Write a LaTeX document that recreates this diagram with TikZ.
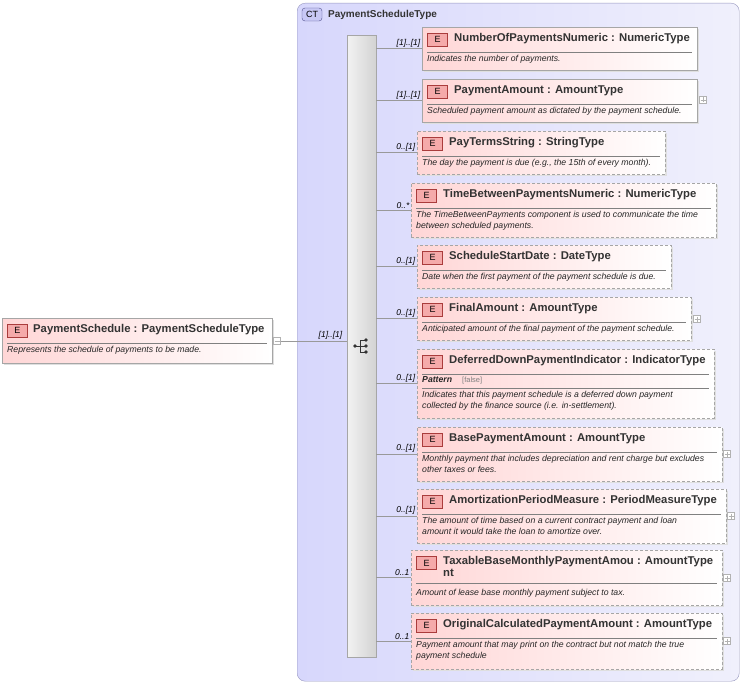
\documentclass[tikz,border=0pt]{standalone}
\usepackage{fontspec}
\setmainfont{Liberation Sans}
\begin{document}
\begin{tikzpicture}[x=1pt,y=-1pt,
  box/.style={draw=gray!70, left color={rgb,255:red,255;green,214;blue,214}, right color=white, shading angle=90, inner sep=0},
  shadow/.style={fill=gray!25, draw=none},
  ttl/.style={font=\fontsize{11.3}{13}\selectfont\bfseries, anchor=west, inner sep=0, text=black!80},
  dsc/.style={font=\fontsize{8.7}{10.5}\selectfont\itshape, anchor=north west, align=left, inner sep=0, text=black!85},
  mult/.style={font=\fontsize{8.5}{9}\selectfont\itshape, anchor=south east, inner sep=1.5pt},
  badge/.style={draw={rgb,255:red,170;green,60;blue,60}, fill={rgb,255:red,245;green,170;blue,170}, minimum width=20, minimum height=13, inner sep=0, font=\fontsize{9}{9}\selectfont},
  conn/.style={draw=gray!80, line width=0.6pt},
  plus/.style={draw=gray!60, fill=white, minimum size=7, inner sep=0}]
\useasboundingbox (0,0) rectangle (743,684);
% CT container
\node[draw={rgb,255:red,150;green,150;blue,190}, rounded corners=8, left color={rgb,255:red,215;green,215;blue,252}, right color={rgb,255:red,240;green,240;blue,252}, shading angle=90, minimum width=442, minimum height=678, anchor=north west, inner sep=0] (ct) at (297,3) {};
\node[draw={rgb,255:red,80;green,80;blue,140}, fill={rgb,255:red,200;green,200;blue,245}, rounded corners=3, minimum width=20, minimum height=13, inner sep=0, font=\fontsize{9}{9}\selectfont] (ctb) at (312,14.5) {CT};
\node[ttl, font=\fontsize{10}{12}\selectfont\bfseries] (ctt) at (328,14.5) {PaymentScheduleType};
% sequence bar
\node[draw=gray!70, left color=gray!10, right color=gray!35, minimum width=29, minimum height=622, anchor=north west, inner sep=0] (seq) at (347,35) {};
% sequence icon
\draw[black!80] (355,346) -- (360,346) (360,340) -- (360,352) (360,340) -- (366,340) (360,346) -- (366,346) (360,352) -- (366,352);
\fill[black!80] (355,346) circle (1.8) (366,340) circle (1.8) (366,346) circle (1.8) (366,352) circle (1.8);

\newcommand\elm[9]{%
  \fill[shadow] (#2+2,#3+2) rectangle (#4+2,#5+2);
  \node[box, #6, minimum width=#4-#2, minimum height=#5-#3, anchor=north west] (#1) at (#2,#3) {};
  \node[badge] (#1b) at (#2+15.5,#3+12.5) {E};
  \node[ttl] (#1t) at (#2+32,#3+12) {#7};
  \draw[gray] (#2+5,#3+25) -- (#4-5,#3+25);
  \node[dsc] (#1d) at (#2+5,#3+28) {#8};
  \draw[conn] (seq.east |- #1.west) -- (#1.west);
  \node[mult] (#1m) at (#1.west) {#9};
}
\elm{e1}{422}{27}{697}{70}{solid}{NumberOfPaymentsNumeric : NumericType}{Indicates the number of payments.}{[1]..[1]}
\elm{e2}{422}{79}{697}{122}{solid}{PaymentAmount : AmountType}{Scheduled payment amount as dictated by the payment schedule.}{[1]..[1]}
\node[plus] (p2) at (703,100) {}; \draw[gray!60] (700.5,100) -- (705.5,100) (703,97.5) -- (703,102.5);
\elm{e3}{417}{131}{665}{174}{densely dashed}{PayTermsString : StringType}{The day the payment is due (e.g., the 15th of every month).}{0..[1]}
\elm{e4}{411}{183}{716}{237}{densely dashed}{TimeBetweenPaymentsNumeric : NumericType}{The TimeBetweenPayments component is used to communicate the time\\between scheduled payments.}{0..*}
\elm{e5}{417}{245}{671}{288}{densely dashed}{ScheduleStartDate : DateType}{Date when the first payment of the payment schedule is due.}{0..[1]}
\elm{e6}{417}{297}{691}{340}{densely dashed}{FinalAmount : AmountType}{Anticipated amount of the final payment of the payment schedule.}{0..[1]}
\node[plus] (p6) at (697,319) {}; \draw[gray!60] (694.5,319) -- (699.5,319) (697,316.5) -- (697,321.5);
\elm{e7}{417}{349}{714}{418}{densely dashed}{DeferredDownPaymentIndicator : IndicatorType}{}{0..[1]}
\node[dsc, font=\fontsize{8.7}{10}\selectfont\bfseries\itshape] (e7p) at (422,376) {Pattern};
\node[dsc, text=gray, font=\fontsize{7.5}{9}\selectfont] (e7f) at (462,377) {[false]};
\draw[gray] (422,388) -- (709,388);
\node[dsc] (e7d) at (422,391) {Indicates that this payment schedule is a deferred down payment\\collected by the finance source (i.e. in-settlement).};
\elm{e8}{417}{427}{722}{481}{densely dashed}{BasePaymentAmount : AmountType}{Monthly payment that includes depreciation and rent charge but excludes\\other taxes or fees.}{0..[1]}
\node[plus] (p8) at (727,454) {}; \draw[gray!60] (724.5,454) -- (729.5,454) (727,451.5) -- (727,456.5);
\elm{e9}{417}{489}{726}{543}{densely dashed}{AmortizationPeriodMeasure : PeriodMeasureType}{The amount of time based on a current contract payment and loan\\amount it would take the loan to amortize over.}{0..[1]}
\node[plus] (p9) at (731,516) {}; \draw[gray!60] (728.5,516) -- (733.5,516) (731,513.5) -- (731,518.5);
% Taxable (two-line title)
\fill[shadow] (413,552) rectangle (724,607);
\node[box, densely dashed, minimum width=311, minimum height=55, anchor=north west] (e10) at (411,550) {};
\node[badge] (e10b) at (426.5,563) {E};
\node[ttl, align=left, anchor=north west, font=\fontsize{11.3}{12}\selectfont\bfseries] (e10t) at (443,556) {TaxableBaseMonthlyPaymentAmou : AmountType\\nt};
\draw[gray] (416,583) -- (717,583);
\node[dsc] (e10d) at (416,589) {Amount of lease base monthly payment subject to tax.};
\draw[conn] (seq.east |- e10.west) -- (e10.west);
\node[mult] (e10m) at (e10.west) {0..1};
\node[plus] (p10) at (727,578) {}; \draw[gray!60] (724.5,578) -- (729.5,578) (727,575.5) -- (727,580.5);
\elm{e11}{411}{613}{722}{669}{densely dashed}{OriginalCalculatedPaymentAmount : AmountType}{Payment amount that may print on the contract but not match the true\\payment schedule}{0..1}
\node[plus] (p11) at (727,641) {}; \draw[gray!60] (724.5,641) -- (729.5,641) (727,638.5) -- (727,643.5);
% root element
\fill[shadow] (4,320) rectangle (274,365);
\node[box, minimum width=270, minimum height=45, anchor=north west] (root) at (2,318) {};
\node[badge] (rootb) at (17.5,330.5) {E};
\node[ttl] (roott) at (33,330) {PaymentSchedule : PaymentScheduleType};
\draw[gray] (7,343) -- (267,343);
\node[dsc] (rootd) at (7,346) {Represents the schedule of payments to be made.};
\node[plus] (rm) at (277,341) {}; \draw[gray!60] (274.5,341) -- (279.5,341);
\draw[conn] (rm.east) -- (seq.west |- rm.east);
\node[mult] (rootm) at (344,341) {[1]..[1]};
\end{tikzpicture}
\end{document}
